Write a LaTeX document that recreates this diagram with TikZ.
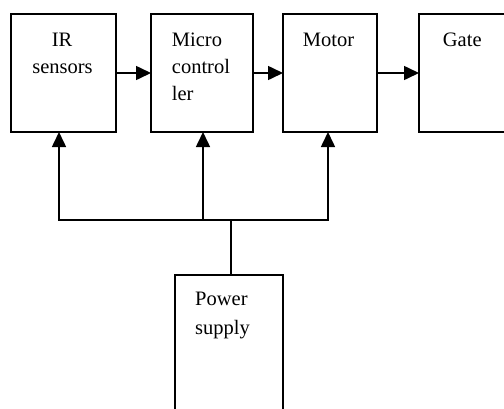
\documentclass[tikz,border=0pt]{standalone}
\usepackage{fontspec}
\setmainfont{Liberation Serif}
\usetikzlibrary{arrows.meta}
\begin{document}
\begin{tikzpicture}[x=1pt,y=-1pt,
  blk/.style={draw,line width=1.6pt,rectangle,inner sep=0pt,outer sep=0pt,anchor=north west},
  lbl/.style={inner sep=0pt,anchor=base west,font=\fontsize{20.5pt}{26pt}\selectfont},
  lblc/.style={lbl,anchor=base},
  conn/.style={line width=1.6pt},
  arr/.style={conn,-{Triangle[length=15pt,width=14pt]}}]
\useasboundingbox (0,0) rectangle (504,408);
\clip (0,0) rectangle (504,408);
\node[blk,minimum width=105pt,minimum height=118pt] (ir) at (11,14) {};
\node[blk,minimum width=102pt,minimum height=118pt] (mc) at (151,14) {};
\node[blk,minimum width=94pt,minimum height=118pt] (mo) at (283,14) {};
\node[blk,minimum width=92pt,minimum height=118pt] (ga) at (419,14) {};
\node[blk,minimum width=108pt,minimum height=140pt] (ps) at (175,275) {};
\node[lblc] (t1) at (62,46.7) {IR};
\node[lblc] (t2) at (62.5,73.3) {sensors};
\node[lbl] (t3) at (171.7,46.7) {Micro};
\node[lbl] (t4) at (171.7,73.3) {control};
\node[lbl] (t5) at (171.7,100) {ler};
\node[lbl] (t6) at (302.7,46.7) {Motor};
\node[lbl] (t7) at (442.7,46.7) {Gate};
\node[lbl] (t8) at (195,305.7) {Power};
\node[lbl] (t9) at (195,334) {supply};
\draw[arr] (ir.east) -- (mc.west);
\draw[arr] (mc.east) -- (mo.west);
\draw[arr] (mo.east) -- (ga.west);
\coordinate (b1) at (59,220);
\coordinate (b2) at (203,220);
\coordinate (b3) at (328,220);
\coordinate (j) at (231,220);
\draw[conn,line cap=rect] (b1) -- (b3);
\draw[arr] (b1) -- (b1 |- ir.south);
\draw[arr] (b2) -- (b2 |- mc.south);
\draw[arr] (b3) -- (b3 |- mo.south);
\draw[conn] (j) -- (j |- ps.north);
\end{tikzpicture}
\end{document}
